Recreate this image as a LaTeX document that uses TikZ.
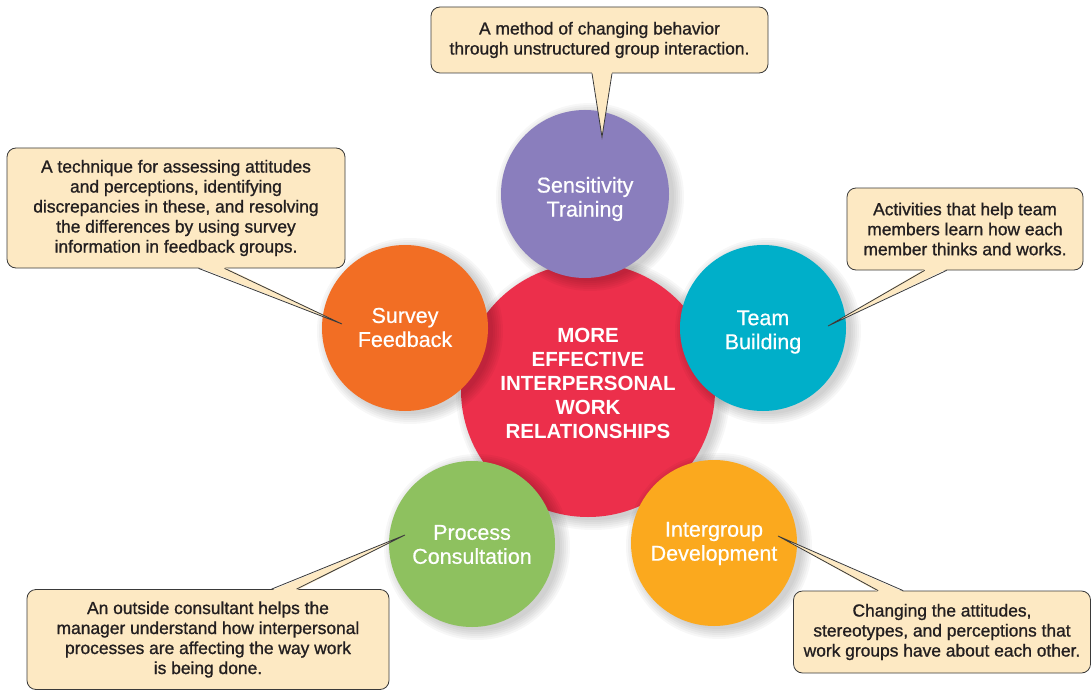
\documentclass[tikz,border=0pt]{standalone}
\usepackage{fontspec}
\setmainfont{Liberation Sans}
\newfontfamily\medfont{Liberation Sans}[FakeBold=1.0]
\newfontfamily\circfont{Liberation Sans}[FakeBold=0.6]
\definecolor{boxfill}{HTML}{FDE9C3}
\definecolor{boxline}{HTML}{3A3A3A}
\definecolor{txt}{HTML}{231F20}
\definecolor{cpurple}{HTML}{8A7EBD}
\definecolor{ccyan}{HTML}{00AFC9}
\definecolor{corange}{HTML}{F26E24}
\definecolor{cred}{HTML}{EC2F4B}
\definecolor{cgreen}{HTML}{8EC15F}
\definecolor{camber}{HTML}{FBA91E}
\newcommand{\softshadow}[3]{%
  \foreach \k in {10,8,6,4,2,0} {\fill[black, opacity=0.03] (#1+5,#2+3) circle ({#3+\k});}}
\tikzset{
  bubble/.style={circle, minimum size=#1, inner sep=0pt},
  circtext/.style={text=white, align=center, inner sep=0pt,
    font=\circfont\fontsize{21.5}{24}\selectfont, yshift=-#1},
  hub/.style={circle, minimum size=254pt, inner sep=0pt, fill=cred},
  hubtext/.style={text=white, align=center, inner sep=0pt,
    font=\fontsize{20.5}{24}\selectfont\bfseries},
  callbox/.style={draw=boxline, fill=boxfill, line width=0.8pt, rounded corners=9pt,
    text=txt, align=center, inner sep=0pt, font=\medfont\fontsize{17.4}{20}\selectfont},
  ptrfill/.style={fill=boxfill},
  ptrline/.style={draw=boxline, line width=0.8pt, line join=miter}
}
\begin{document}
\begin{tikzpicture}[x=1pt,y=-1pt]
\useasboundingbox[fill=white] (0,0) rectangle (1092,690);

% central hub
\softshadow{588}{390}{127}
\node[hub] (hub) at (588,390) {};
\node[hubtext] (hubt) at (588,383) {MORE\\EFFECTIVE\\INTERPERSONAL\\WORK\\RELATIONSHIPS};

% surrounding circles
\softshadow{585}{194}{84}
\node[bubble=168pt, fill=cpurple, label={[circtext=5pt]center:Sensitivity\\Training}] (sens) at (585,194) {};
\softshadow{405}{328}{83}
\node[bubble=166pt, fill=corange, label={[circtext=-0.5pt]center:Survey\\Feedback}] (surv) at (405,328) {};
\softshadow{763}{328}{83}
\node[bubble=166pt, fill=ccyan, label={[circtext=4pt]center:Team\\Building}] (team) at (763,328) {};
\softshadow{472}{544}{83}
\node[bubble=166pt, fill=cgreen, label={[circtext=0.5pt]center:Process\\Consultation}] (proc) at (472,544) {};
\softshadow{714}{543}{83}
\node[bubble=166pt, fill=camber, label={[circtext=0.5pt]center:Intergroup\\Development}] (inter) at (714,543) {};

% callout boxes
\node[callbox, minimum width=337pt, minimum height=66pt] (bsens) at (599.5,40)
  {A method of changing behavior\\through unstructured group interaction.};
\node[callbox, minimum width=338pt, minimum height=120pt] (bsurv) at (176,208)
  {A technique for assessing attitudes\\and perceptions, identifying\\discrepancies in these, and resolving\\the differences by using survey\\information in feedback groups.};
\node[callbox, minimum width=236pt, minimum height=82pt] (bteam) at (965,229)
  {Activities that help team\\members learn how each\\member thinks and works.};
\node[callbox, minimum width=362pt, minimum height=100pt] (bproc) at (208,639.5)
  {An outside consultant helps the\\manager understand how interpersonal\\processes are affecting the way work\\is being done.};
\node[callbox, minimum width=297pt, minimum height=82pt] (binter) at (942,632)
  {Changing the attitudes,\\stereotypes, and perceptions that\\work groups have about each other.};

% pointer tips
\coordinate (tsens) at (602,137);
\coordinate (tsurv) at (342,324);
\coordinate (tteam) at (828,326);
\coordinate (tproc) at (405,535);
\coordinate (tinter) at (778,536);

% pointers: fill then outline sides
\fill[ptrfill] ([xshift=-7.5pt,yshift=1.2pt]bsens.south) -- (tsens) -- ([xshift=12.5pt,yshift=1.2pt]bsens.south) -- cycle;
\draw[ptrline] ([xshift=-7.5pt]bsens.south) -- (tsens) -- ([xshift=12.5pt]bsens.south);

\fill[ptrfill] ([xshift=192pt,yshift=1.2pt]bsurv.south west) -- (tsurv) -- ([xshift=218pt,yshift=1.2pt]bsurv.south west) -- cycle;
\draw[ptrline] ([xshift=192pt]bsurv.south west) -- (tsurv) -- ([xshift=218pt]bsurv.south west);

\fill[ptrfill] ([xshift=78pt,yshift=1.2pt]bteam.south west) -- (tteam) -- ([xshift=100pt,yshift=1.2pt]bteam.south west) -- cycle;
\draw[ptrline] ([xshift=78pt]bteam.south west) -- (tteam) -- ([xshift=100pt]bteam.south west);

\fill[ptrfill] ([xshift=245pt,yshift=-1.2pt]bproc.north west) -- (tproc) -- ([xshift=270pt,yshift=-1.2pt]bproc.north west) -- cycle;
\draw[ptrline] ([xshift=245pt]bproc.north west) -- (tproc) -- ([xshift=270pt]bproc.north west);

\fill[ptrfill] ([xshift=85pt,yshift=-1.2pt]binter.north west) -- (tinter) -- ([xshift=110pt,yshift=-1.2pt]binter.north west) -- cycle;
\draw[ptrline] ([xshift=85pt]binter.north west) -- (tinter) -- ([xshift=110pt]binter.north west);
\end{tikzpicture}
\end{document}
